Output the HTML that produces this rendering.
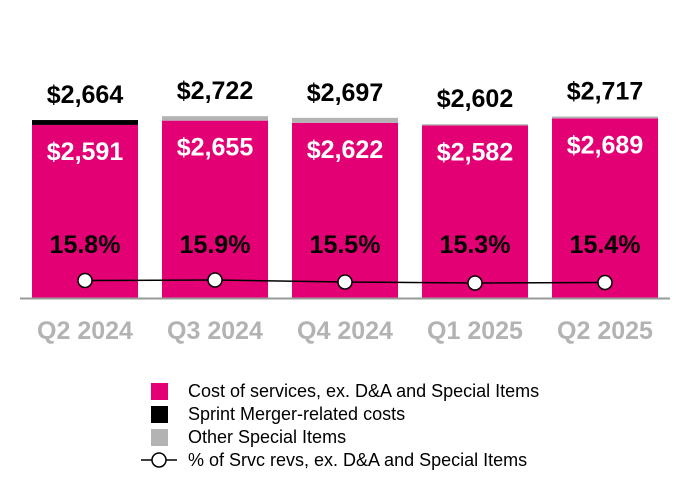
<!DOCTYPE html>
<html><head><meta charset="utf-8"><style>
body{margin:0;background:#fff;}
svg{display:block;font-family:"Liberation Sans",Arial,sans-serif;}
</style></head><body>
<svg id="c" width="690" height="500"></svg>
<script>
const categories=["Q2 2024","Q3 2024","Q4 2024","Q1 2025","Q2 2025"];
const costValues=[2591,2655,2622,2582,2689];
const sprintValues=[73,0,0,0,0];
const otherValues=[0,67,75,20,28];
const totalValues=[2664,2722,2697,2602,2717];
const pctValues=[15.8,15.9,15.5,15.3,15.4];
const pctLabels=["15.8%","15.9%","15.5%","15.3%","15.4%"];

const NS="http://www.w3.org/2000/svg";
const svg=document.getElementById('c');
const base=298, k=0.0668;
function y(v){return base-v*k;}
function yp(p){return 283-(p-15.3)/(15.9-15.3)*3;}
function xc(i){return 85+i*130;}
function mk(t,a,txt){const e=document.createElementNS(NS,t);for(const n in a)e.setAttribute(n,a[n]);if(txt!==undefined)e.textContent=txt;svg.appendChild(e);return e;}
const fmt=v=>"$"+v.toLocaleString("en-US");
categories.forEach((c,i)=>{
  const x=xc(i)-53;
  const r1=mk('rect',{x:x,y:y(costValues[i]),width:106,height:costValues[i]*k,fill:'#e20074'});
  
  
  const cum=costValues[i];
  if(sprintValues[i]>0){
    const h=Math.max(3,sprintValues[i]*k);
    const r=mk('rect',{x:x,y:y(cum)-h,width:106,height:h,fill:'#000'});
    
    
  }
  if(otherValues[i]>0){
    const h=otherValues[i]*k;
    const r=mk('rect',{x:x,y:y(cum)-h,width:106,height:h,fill:'#b3b3b3'});
    
    
  }
  const t1=mk('text',{x:xc(i),y:y(totalValues[i])-17,'text-anchor':'middle','font-size':25,'font-weight':'bold',fill:'#000'},fmt(totalValues[i]));
  
  
  const t2=mk('text',{x:xc(i),y:y(costValues[i])+35,'text-anchor':'middle','font-size':25,'font-weight':'bold',fill:'#fff'},fmt(costValues[i]));
  
  
  const t3=mk('text',{x:xc(i),y:253,'text-anchor':'middle','font-size':25,'font-weight':'bold',fill:'#000'},pctLabels[i]);
  
  
  const t4=mk('text',{x:xc(i),y:339,'text-anchor':'middle','font-size':25,'font-weight':'bold',fill:'#b3b3b3'},c);
  
  
});
const ax=mk('line',{x1:20,x2:670,y1:298.5,y2:298.5,stroke:'#999','stroke-width':2});


const pts=pctValues.map((p,i)=>xc(i)+","+yp(p)).join(" ");
const pl=mk('polyline',{points:pts,fill:'none',stroke:'#000','stroke-width':1.5});


pctValues.forEach((p,i)=>{
  const c=mk('circle',{cx:xc(i),cy:yp(p),r:7,fill:'#fff',stroke:'#000','stroke-width':1.5});
  
  
});
const leg=[["#e20074","Cost of services, ex. D&A and Special Items",391],["#000","Sprint Merger-related costs",414],["#b3b3b3","Other Special Items",437]];
leg.forEach((l,i)=>{
  const r=mk('rect',{x:151,y:l[2]-8,width:17,height:17,fill:l[0]});
  
  
  const t=mk('text',{x:188,y:l[2]+6,'font-size':18,fill:'#000'},l[1]);
  
  
});
const ll=mk('line',{x1:141,x2:177,y1:460,y2:460,stroke:'#000','stroke-width':1.5});


const lc=mk('circle',{cx:159,cy:460,r:7,fill:'#fff',stroke:'#000','stroke-width':1.5});


const lt=mk('text',{x:188,y:466,'font-size':18,fill:'#000'},"% of Srvc revs, ex. D&A and Special Items");


</script>
</body></html>
